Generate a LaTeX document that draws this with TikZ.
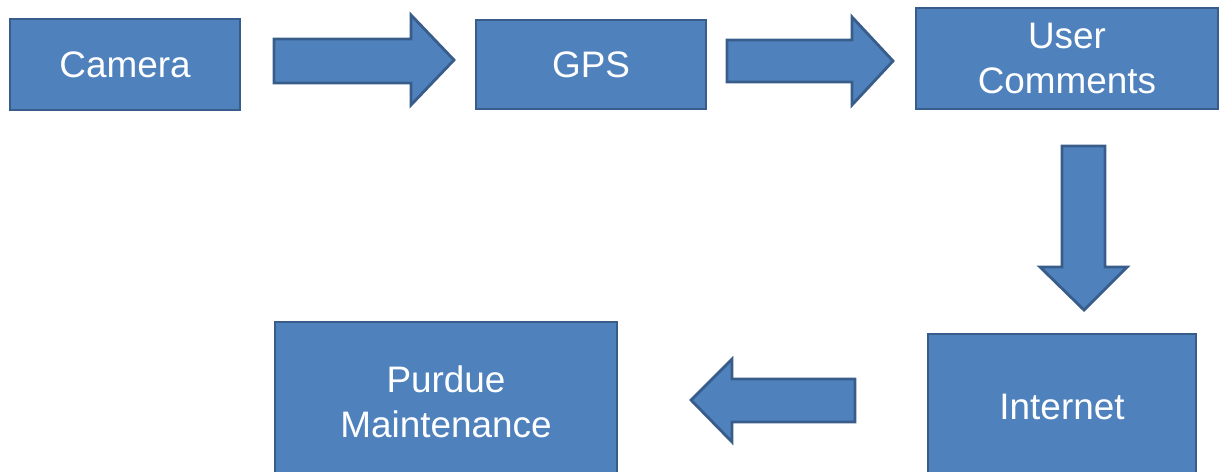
\documentclass[tikz,border=0pt]{standalone}
\usepackage{fontspec}
\setmainfont{Liberation Sans}
\definecolor{boxblue}{HTML}{4F81BD}
\definecolor{edgeblue}{HTML}{385D8A}
\tikzset{
	box/.style={draw=edgeblue, fill=boxblue, line width=1.6pt, text=white, align=center, inner sep=0pt, font=\fontsize{21}{25.5}\selectfont},
	blockarr/.style={draw=edgeblue, fill=boxblue, line width=1.6pt, line join=miter}
}

\begin{document}
\begin{tikzpicture}[x=0.02cm, y=-0.02cm]
			%%%%% START %%%%%
			\clip (0, 0) rectangle (1219, 472);
			
			\node[box, minimum width=4.6cm, minimum height=1.82cm] (camera) at (125, 64.5) {Camera};
			\node[box, minimum width=4.6cm, minimum height=1.78cm] (gps) at (591, 64.5) {GPS};
			\node[box, minimum width=6.04cm, minimum height=2.02cm] (comments) at (1067, 58.5) {User\\Comments};
			\node[box, minimum width=5.36cm, minimum height=2.92cm] (internet) at (1062, 407) {Internet};
			\node[box, minimum width=6.84cm, minimum height=3.2cm] (purdue) at (446, 402) {Purdue\\Maintenance};
			
			% camera -> gps
			\draw[blockarr] (274, 39) -- (411, 39) -- (411, 15) -- (454, 60) -- (411, 105) -- (411, 83) -- (274, 83) -- cycle;
			% gps -> comments
			\draw[blockarr] (727, 40) -- (852, 40) -- (852, 17) -- (893, 61) -- (852, 105) -- (852, 82) -- (727, 82) -- cycle;
			% comments -> internet
			\draw[blockarr] (1062, 146) -- (1105, 146) -- (1105, 267) -- (1127, 267) -- (1084, 310) -- (1040, 267) -- (1062, 267) -- cycle;
			% internet -> purdue
			\draw[blockarr] (855, 379) -- (732, 379) -- (732, 359) -- (691, 400) -- (732, 442) -- (732, 422) -- (855, 422) -- cycle;
			
			%%%%% END %%%%%
\end{tikzpicture}
\end{document}
